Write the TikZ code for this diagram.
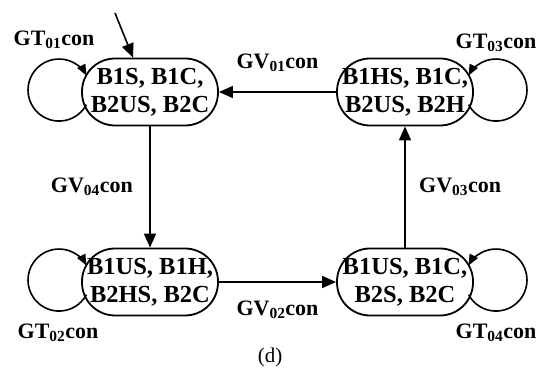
\documentclass[tikz,border=0pt]{standalone}
\usepackage{fontspec}
\setmainfont{Liberation Serif}
\usepackage{tikz}
\usetikzlibrary{arrows.meta}

\tikzset{
  state/.style={draw, fill=white, line width=1.8pt, rounded corners=33pt,
    minimum width=136pt, minimum height=67pt, inner sep=0pt, align=center,
    font=\bfseries\fontsize{24.5}{28}\selectfont},
  lbl/.style={font=\bfseries\fontsize{22}{26}\selectfont},
  trans/.style={-{Triangle[length=14pt,width=12pt]}, line width=1.6pt},
  selfloop/.style={-{Triangle[length=11pt,width=9pt]}, line width=1.6pt}
}

\begin{document}
\begin{tikzpicture}[x=1pt,y=1pt]
  \useasboundingbox (0,0) rectangle (540,380);

  \draw (150,288) node[state] (s1) {B1S, B1C,\\B2US, B2C};
  \draw (405,288) node[state] (s2) {B1HS, B1C,\\B2US, B2H};
  \draw (150,98) node[state] (s3) {B1US, B1H,\\B2HS, B2C};
  \draw (405,98) node[state] (s4) {B1US, B1C,\\B2S, B2C};
  \coordinate (init) at (115,367);

  \draw (54,340) node[lbl] (gt1) {GT\textsubscript{01}con};
  \draw (58,47) node[lbl] (gt2) {GT\textsubscript{02}con};
  \draw (496,337) node[lbl] (gt3) {GT\textsubscript{03}con};
  \draw (496,47) node[lbl] (gt4) {GT\textsubscript{04}con};
  \draw (270,23) node[font=\fontsize{21}{24}\selectfont] (cap) {(d)};

  \draw[trans] (init) -- ([xshift=-17pt]s1.north);

    \path[trans] (s2) edge node[lbl,above=16pt] {GV\textsubscript{01}con} (s1);
    \path[trans] (s3) edge node[lbl,below=15pt] {GV\textsubscript{02}con} (s4);
    \path[trans] (s4) edge node[lbl,right=10pt] {GV\textsubscript{03}con} (s2);
    \path[trans] (s1) edge node[lbl,left=13pt] {GV\textsubscript{04}con} (s3);

  % self loops
  \draw[selfloop] ([shift={(-63.6,-12.6)}]s1.center) arc[start angle=-28, end angle=-332, radius=31pt];
  \draw[selfloop] ([shift={(-63.6,-12.6)}]s3.center) arc[start angle=-28, end angle=-332, radius=31pt];
  \draw[selfloop] ([shift={(63.6,-12.6)}]s2.center) arc[start angle=208, end angle=512, radius=31pt];
  \draw[selfloop] ([shift={(63.6,-12.6)}]s4.center) arc[start angle=208, end angle=512, radius=31pt];

\end{tikzpicture}
\end{document}
